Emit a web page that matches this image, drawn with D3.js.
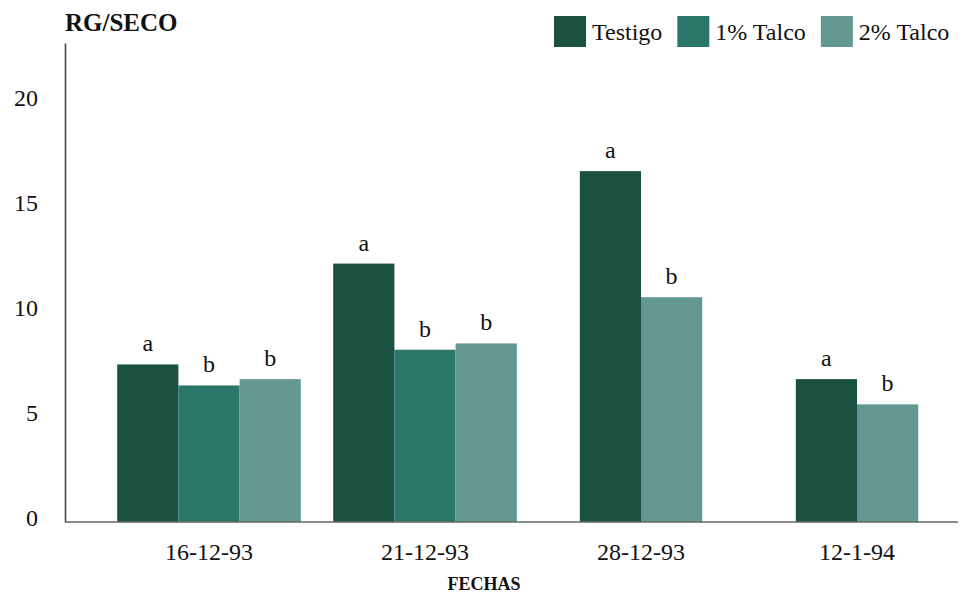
<!DOCTYPE html>
<html>
<head>
<meta charset="utf-8">
<script src="https://cdn.jsdelivr.net/npm/d3@7"></script>
<style>
  html, body { margin: 0; padding: 0; background: #ffffff; }
  svg { display: block; }
  text { font-family: "Liberation Serif", "DejaVu Serif", serif; fill: #111; }
</style>
</head>
<body>
<svg id="chart" width="962" height="595"></svg>
<script>
// ---- data ----
const categories = ["16-12-93", "21-12-93", "28-12-93", "12-1-94"];
const seriesNames = ["Testigo", "1% Talco", "2% Talco"];
const testigo = [7.5, 12.3, 16.7, 6.8];
const talco1 = [6.5, 8.2, null, null];
const talco2 = [6.8, 8.5, 10.7, 5.6];
const testigoLetters = ["a", "a", "a", "a"];
const talco1Letters = ["b", "b", null, null];
const talco2Letters = ["b", "b", "b", "b"];
const yTicks = [0, 5, 10, 15, 20];
const yMax = 22.8;

const seriesValues = [testigo, talco1, talco2];
const seriesLetters = [testigoLetters, talco1Letters, talco2Letters];
const colors = ["#1b5141", "#2a7769", "#629890"];

// ---- layout ----
const svg = d3.select("#chart");
const plotLeft = 65, plotRight = 958, plotTop = 43, plotBottom = 522;

const y = d3.scaleLinear().domain([0, yMax]).range([plotBottom, plotTop]);
const x = d3.scaleBand().domain(categories).range([101, 965]).padding(0);
const color = d3.scaleOrdinal().domain(seriesNames).range(colors);
const barW = x.bandwidth() * 0.85 / 3;

// ---- bars ----
const groups = categories.map((c, i) => {
  const present = seriesNames
    .map((s, k) => ({ series: s, value: seriesValues[k][i], letter: seriesLetters[k][i] }))
    .filter(d => d.value != null);
  const inner = d3.scaleBand().domain(present.map(d => d.series))
    .range([-present.length * barW / 2, present.length * barW / 2]);
  return present.map(d => Object.assign(d, {
    cat: c,
    x0: x(c) + x.bandwidth() / 2 + inner(d.series),
    w: inner.bandwidth()
  }));
}).flat();

svg.append("g").selectAll("rect").data(groups).join("rect")
  .attr("x", d => d.x0)
  .attr("y", d => y(d.value))
  .attr("width", d => d.w)
  .attr("height", d => y(0) - y(d.value))
  .attr("fill", d => color(d.series));

svg.append("g").selectAll("text").data(groups.filter(d => d.letter)).join("text")
  .attr("x", d => d.x0 + d.w / 2)
  .attr("y", d => y(d.value) - 13)
  .attr("text-anchor", "middle")
  .style("font-size", "24px")
  .text(d => d.letter);

// ---- axes ----
const yAxis = svg.append("g")
  .attr("transform", `translate(${plotLeft},0)`)
  .call(d3.axisLeft(y).tickValues(yTicks).tickSize(0).tickPadding(27).tickFormat(d3.format("d")));
yAxis.select(".domain").attr("stroke", "#444").attr("stroke-width", 1.6);
yAxis.selectAll("text").style("font-size", "24px").attr("dy", "0.15em")
  .style("font-family", "\"Liberation Serif\", serif").attr("fill", "#111");

svg.append("line")
  .attr("x1", plotLeft).attr("x2", plotRight)
  .attr("y1", y(0)).attr("y2", y(0))
  .attr("stroke", "#666").attr("stroke-width", 1.6);

const xAxis = svg.append("g")
  .attr("transform", `translate(0,${y(0)})`)
  .call(d3.axisBottom(x).tickSize(0).tickPadding(21));
xAxis.select(".domain").remove();
xAxis.selectAll("text").style("font-size", "24px")
  .style("font-family", "\"Liberation Serif\", serif").attr("fill", "#111");

// ---- titles ----
svg.append("text")
  .attr("x", plotLeft).attr("y", 31)
  .style("font-size", "25px").style("font-weight", "bold")
  .text("RG/SECO");

svg.append("text")
  .attr("x", 484).attr("y", 590)
  .attr("text-anchor", "middle")
  .style("font-size", "18px").style("font-weight", "bold")
  .text("FECHAS");

// ---- legend ----
const legend = svg.append("g");
let lx = 554;
seriesNames.forEach(s => {
  legend.append("rect")
    .attr("x", lx).attr("y", 16).attr("width", 32).attr("height", 31)
    .attr("fill", color(s));
  const t = legend.append("text")
    .attr("x", lx + 38).attr("y", 40)
    .style("font-size", "24px")
    .text(s);
  lx = lx + 38 + t.node().getComputedTextLength() + 15;
});
</script>
</body>
</html>
